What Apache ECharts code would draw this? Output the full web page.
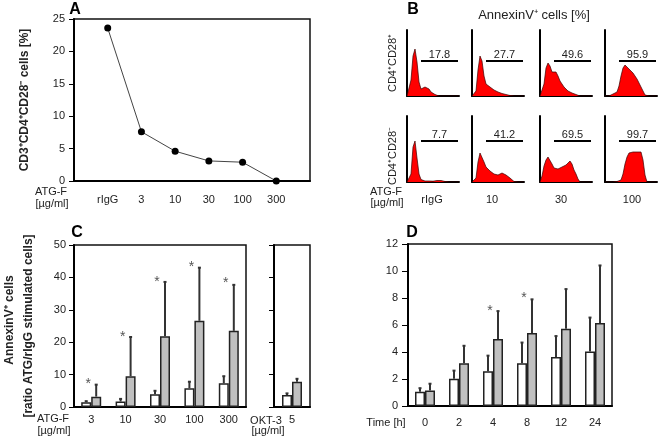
<!DOCTYPE html>
<html><head><meta charset="utf-8">
<script src="https://cdn.jsdelivr.net/npm/echarts@6/dist/echarts.min.js"></script>
<style>html,body{margin:0;padding:0;background:#fff}#c{width:661px;height:442px}</style>
</head><body><div id="c"></div><script>
// ---------- Panel A ----------
const aCats = ['rIgG', '3', '10', '30', '100', '300'];
const aVals = [23.6, 7.6, 4.6, 3.1, 2.9, 0];
const aTicks = [0, 5, 10, 15, 20, 25];

// ---------- Panel B ----------
const bChannels = [0,2,4,6,8,10,12,14,16,18,20,22,24,26,28,30,32,34,36,38,40,42,44,46,48,50,52];
const bCols = ['rIgG', '10', '30', '100'];
const bRows = ['CD4\u207ACD28\u207A', 'CD4\u207ACD28\u207B'];
const bPctTop = ['17.8', '27.7', '49.6', '95.9'];
const bPctBottom = ['7.7', '41.2', '69.5', '99.7'];
const bHistTop = [
  [0,1,16,40,47,34,14,7,6,9,10,7,4,3,1.5,0.5,0,0,0,0,0,0,0,0,0,0,0],
  [0,0.5,5,26,40,35,20,12,10,9,8,6,5,4,3,2.5,2,1.5,1,0.5,0,0,0,0,0,0,0],
  [0,1,12,28,33,30,24,22,24,20,15,12,9,7,5,4,3,2,1.5,0.5,0,0,0,0,0,0,0],
  [0,0,0,1,2,2,4,10,20,28,31,30,27,25,23,20,17,13,9,5,1,0,0,0,0,0,0]
];
const bHistBottom = [
  [0,0.5,8,35,41,24,8,2.5,1.5,1,1,1,1,0.8,1.2,1.5,1.2,1.5,0.8,0.5,0,0,0,0,0,0,0],
  [0,0.5,4,20,29,27,20,15,13,11,10,8,6,7,8,9,8,7,6,4,2,0.5,0,0,0,0,0],
  [0,6,16,22,25,23,18,14,12,13,14,15,14,17,19,21,18,12,8,3,0,0,0,0,0,0,0],
  [0,0,0,0,0,0.5,0.5,1,2,8,18,25,29,30,30,31,30,31,30,22,7,0,0,0,0,0,0]
];
const bGateTop = 35, bGateBottom = 41;   // gate marker heights (histogram units)
const bGateFrom = 14, bGateTo = 51;      // gate channel range

// ---------- Panel C ----------
const cCats = ['3', '10', '30', '100', '300'];
const cWhite = [1.5, 1.7, 3.9, 5.8, 7.3];
const cWhiteErr = [1.8, 2.5, 5.0, 7.8, 9.5];
const cGray = [3.2, 9.5, 21.8, 26.6, 23.5];
const cGrayErr = [6.9, 21.6, 38.6, 43.0, 37.7];
const cStar = [8.1, 22.4, 39.5, 44.0, 39.0];
const cTicks = [0, 10, 20, 30, 40, 50];
const okCats = ['5'];
const okWhite = [3.7];
const okWhiteErr = [4.2];
const okGray = [7.8];
const okGrayErr = [8.7];

// ---------- Panel D ----------
const dCats = ['0', '2', '4', '8', '12', '24'];
const dWhite = [1.05, 2.02, 2.57, 3.17, 3.63, 4.03];
const dWhiteErr = [1.32, 2.62, 3.73, 4.7, 5.18, 6.55];
const dGray = [1.15, 3.17, 4.97, 5.4, 5.72, 6.14];
const dGrayErr = [1.65, 4.46, 7.03, 7.9, 8.66, 10.41];
const dStar = [null, null, 7.27, 8.18, null, null];
const dTicks = [0, 2, 4, 6, 8, 10, 12];

// ---------- build ----------
const FONT = 'Liberation Sans, Arial, sans-serif';
const TXT = '#222';
const chart = echarts.init(document.getElementById('c'), null, {renderer: 'canvas'});

const grids = [], xAxes = [], yAxes = [], series = [];

function boxGrid(left, top, width, height) {
  grids.push({left, top, width, height, show: true, borderColor: '#111', borderWidth: 1.5,
    backgroundColor: 'transparent', containLabel: false, outerBoundsMode: 'none'});
  return grids.length - 1;
}
function plainGrid(left, top, width, height) {
  grids.push({left, top, width, height, show: false, containLabel: false, outerBoundsMode: 'none'});
  return grids.length - 1;
}
const axisLine = {show: true, onZero: false, lineStyle: {color: '#000', width: 2}};
const tickLbl = {color: TXT, fontSize: 11, fontFamily: FONT};

// Panel A
const gA = boxGrid(74, 19, 236, 162);
xAxes.push({gridIndex: gA, type: 'category', boundaryGap: false, data: [''].concat(aCats, ['']),
  axisLine, axisTick: {show: false}, axisLabel: Object.assign({margin: 13, interval: 0}, tickLbl), splitLine: {show: false}});
yAxes.push({gridIndex: gA, type: 'value', min: aTicks[0], max: aTicks[aTicks.length - 1], interval: 5,
  axisLine, axisTick: {show: true, length: 5, lineStyle: {color: '#000', width: 1}},
  axisLabel: Object.assign({margin: 9}, tickLbl), splitLine: {show: false}});
series.push({type: 'line', xAxisIndex: xAxes.length - 1, yAxisIndex: yAxes.length - 1,
  data: [null].concat(aVals, [null]), symbol: 'circle', symbolSize: 7, connectNulls: false,
  itemStyle: {color: '#000'}, lineStyle: {color: '#444', width: 1}, z: 5});

// Panel B
const bLefts = [407, 472, 540, 605];
[[30, bHistTop, bPctTop, bGateTop], [116, bHistBottom, bPctBottom, bGateBottom]].forEach(row => {
  const [top, hists, pcts, gate] = row;
  hists.forEach((h, k) => {
    const g = plainGrid(bLefts[k], top, 52, 66);
    xAxes.push({gridIndex: g, type: 'value', min: 0, max: 52, axisLine, axisTick: {show: false},
      axisLabel: {show: false}, splitLine: {show: false}});
    yAxes.push({gridIndex: g, type: 'value', min: 0, max: 66, axisLine, axisTick: {show: false},
      axisLabel: {show: false}, splitLine: {show: false}});
    series.push({type: 'line', xAxisIndex: xAxes.length - 1, yAxisIndex: yAxes.length - 1,
      data: bChannels.map((c, i) => [c, h[i]]), symbol: 'none', smooth: false,
      lineStyle: {color: '#3a0000', width: 0.7}, areaStyle: {color: '#ff0000', opacity: 1},
      markLine: {silent: true, symbol: ['none', 'none'], animation: false,
        lineStyle: {color: '#000', width: 2, type: 'solid'},
        label: {show: true, position: 'middle', distance: 1, formatter: pcts[k],
          color: TXT, fontSize: 11, fontFamily: FONT},
        data: [[{coord: [bGateFrom, gate]}, {coord: [bGateTo, gate]}]]}});
  });
});

// bar-with-error helpers
function errRender(off) {
  return function (params, api) {
    const b = api.coord([api.value(0), api.value(1)]);
    const t = api.coord([api.value(0), api.value(2)]);
    const cx = b[0] + off;
    return {type: 'group', children: [
      {type: 'line', shape: {x1: cx, y1: b[1], x2: cx, y2: t[1]}, style: {stroke: '#333', lineWidth: 2}},
      {type: 'line', shape: {x1: cx - 1.5, y1: t[1], x2: cx + 1.5, y2: t[1]}, style: {stroke: '#333', lineWidth: 2}}
    ]};
  };
}
function starRender(params, api) {
  const p = api.coord([api.value(0), api.value(1)]);
  return {type: 'text', x: p[0] - 3, y: p[1] + 3,
    style: {text: '*', align: 'center', verticalAlign: 'middle', fontSize: 14, fontFamily: FONT, fill: '#555'}};
}
function barPanel(gi, white, whiteErr, gray, grayErr, stars) {
  const xi = xAxes.length - 1, yi = yAxes.length - 1;
  series.push({type: 'bar', xAxisIndex: xi, yAxisIndex: yi, data: white, barWidth: 10, barGap: '0%',
    itemStyle: {color: '#fff', borderColor: '#222', borderWidth: 1.5}, z: 3});
  series.push({type: 'bar', xAxisIndex: xi, yAxisIndex: yi, data: gray, barWidth: 10, barGap: '0%',
    itemStyle: {color: '#c0c0c0', borderColor: '#222', borderWidth: 1.5}, z: 3});
  series.push({type: 'custom', xAxisIndex: xi, yAxisIndex: yi, renderItem: errRender(-5), z: 4,
    data: white.map((v, i) => [i, v, whiteErr[i]])});
  series.push({type: 'custom', xAxisIndex: xi, yAxisIndex: yi, renderItem: errRender(5), z: 4,
    data: gray.map((v, i) => [i, v, grayErr[i]])});
  if (stars) {
    series.push({type: 'custom', xAxisIndex: xi, yAxisIndex: yi, renderItem: starRender, z: 4,
      data: stars.map((v, i) => v == null ? null : [i, v]).filter(d => d)});
  }
}

// Panel C main
const gC = boxGrid(74, 245, 172, 162);
xAxes.push({gridIndex: gC, type: 'category', data: cCats, axisLine, axisTick: {show: false},
  axisLabel: Object.assign({margin: 7, interval: 0}, tickLbl), splitLine: {show: false}});
yAxes.push({gridIndex: gC, type: 'value', min: cTicks[0], max: cTicks[cTicks.length - 1], interval: 10,
  axisLine, axisTick: {show: true, length: 5, lineStyle: {color: '#000', width: 1}},
  axisLabel: Object.assign({margin: 8}, tickLbl), splitLine: {show: false}});
barPanel(gC, cWhite, cWhiteErr, cGray, cGrayErr, cStar);

// Panel C OKT-3
const gC2 = boxGrid(274, 245, 36, 162);
xAxes.push({gridIndex: gC2, type: 'category', data: okCats, axisLine, axisTick: {show: false},
  axisLabel: Object.assign({margin: 7, interval: 0}, tickLbl), splitLine: {show: false}});
yAxes.push({gridIndex: gC2, type: 'value', min: cTicks[0], max: cTicks[cTicks.length - 1], interval: 10,
  axisLine, axisTick: {show: true, length: 5, lineStyle: {color: '#000', width: 1}},
  axisLabel: {show: false}, splitLine: {show: false}});
barPanel(gC2, okWhite, okWhiteErr, okGray, okGrayErr, null);

// Panel D
const gD = boxGrid(408, 244, 204, 162);
xAxes.push({gridIndex: gD, type: 'category', data: dCats, axisLine, axisTick: {show: false},
  axisLabel: Object.assign({margin: 11, interval: 0}, tickLbl), splitLine: {show: false}});
yAxes.push({gridIndex: gD, type: 'value', min: dTicks[0], max: dTicks[dTicks.length - 1], interval: 2,
  axisLine, axisTick: {show: true, length: 6, lineStyle: {color: '#000', width: 1}},
  axisLabel: Object.assign({margin: 10}, tickLbl), splitLine: {show: false}});
barPanel(gD, dWhite, dWhiteErr, dGray, dGrayErr, dStar);

// ---------- free text ----------
function t(text, x, y, opts) {
  opts = opts || {};
  return {type: 'text', x, y, rotation: opts.rot || 0, silent: true,
    style: {text, align: 'center', verticalAlign: 'middle', fill: opts.color || TXT,
      fontSize: opts.size || 11, fontWeight: opts.bold ? 'bold' : 'normal', fontFamily: FONT}};
}
const R = Math.PI / 2;
const graphics = [
  t('A', 75, 10, {size: 16, bold: true, color: '#000'}),
  t('B', 413, 10, {size: 16, bold: true, color: '#000'}),
  t('C', 77, 233, {size: 16, bold: true, color: '#000'}),
  t('D', 412, 233, {size: 16, bold: true, color: '#000'}),
  t('AnnexinV\u207A cells [%]', 534, 15, {size: 13}),
  t('CD3\u207ACD4\u207ACD28\u207B cells [%]', 25, 100, {size: 12, bold: true, rot: R}),
  t('AnnexinV\u207A cells', 10, 320, {size: 12, bold: true, rot: R}),
  t('[ratio ATG/rIgG stimulated cells]', 29, 326, {size: 12, bold: true, rot: R}),
  t('ATG-F', 51, 192), t('[\u00B5g/ml]', 52, 204),
  t('ATG-F', 386, 192), t('[\u00B5g/ml]', 387, 203),
  t('ATG-F', 53, 419), t('[\u00B5g/ml]', 54, 431),
  t('OKT-3', 266, 421), t('[\u00B5g/ml]', 268, 431),
  t('Time [h]', 386, 423),
  t(bRows[0], 393, 63, {rot: R}),
  t(bRows[1], 393, 156, {rot: R})
];
const bColX = [432, 492, 561, 632];
bCols.forEach((c, k) => graphics.push(t(c, bColX[k], 200)));

chart.setOption({
  animation: false,
  backgroundColor: '#fff',
  grid: grids, xAxis: xAxes, yAxis: yAxes, series,
  graphic: graphics
});
</script></body></html>
